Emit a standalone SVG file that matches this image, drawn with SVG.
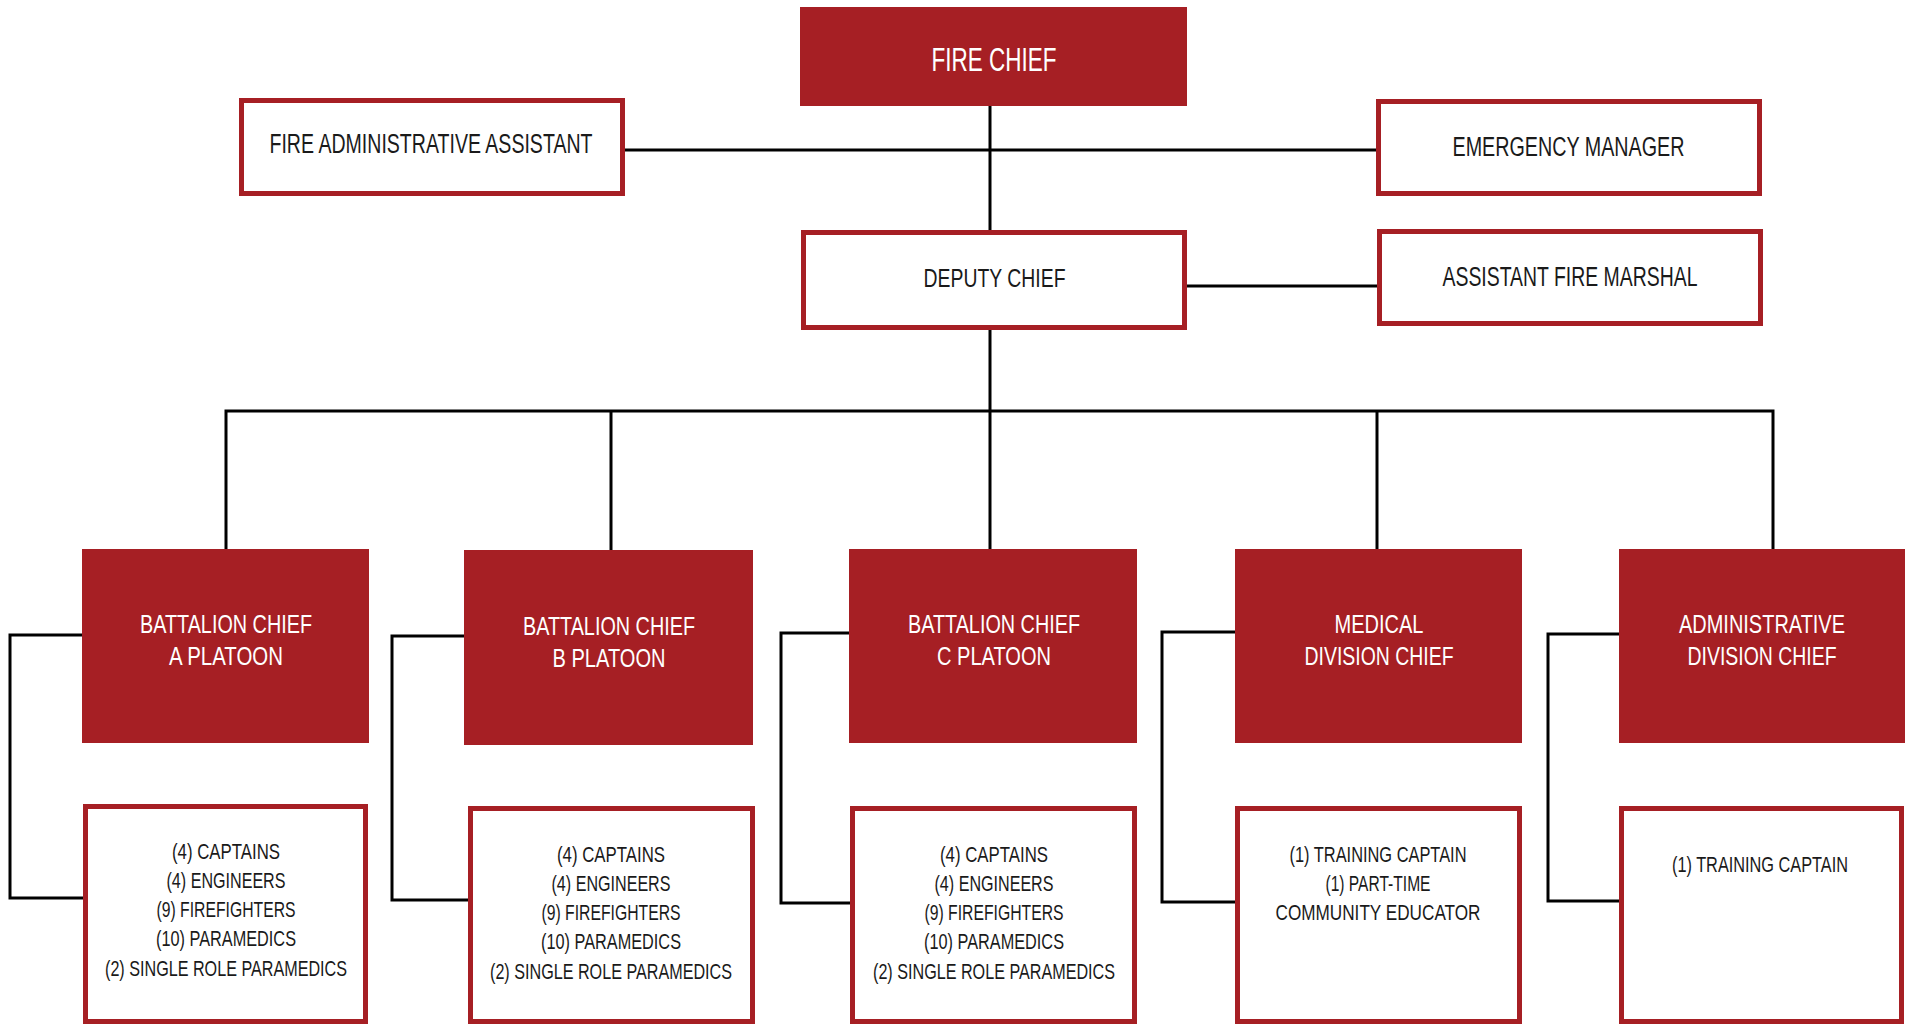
<svg xmlns="http://www.w3.org/2000/svg" width="1905" height="1024" viewBox="0 0 1905 1024">
<style>
.red{fill:#A61F24;}
.box{fill:#FFFFFF;stroke:#A61F24;stroke-width:5;}
.ln{fill:none;stroke:#000000;stroke-width:3;stroke-linejoin:miter;}
text{font-family:"Liberation Sans",Arial,sans-serif;text-anchor:middle;}
.wt{fill:#FFFFFF;font-size:26px;}
.bt{fill:#1A1A1A;font-size:26px;}
.st{fill:#1A1A1A;font-size:22px;}
</style>
<rect x="0" y="0" width="1905" height="1024" fill="#FFFFFF"/>
<g id="connectors">
<line class="ln" x1="990" y1="106" x2="990" y2="231"/>
<line class="ln" x1="625" y1="150" x2="1376" y2="150"/>
<line class="ln" x1="1187" y1="286" x2="1377" y2="286"/>
<line class="ln" x1="990" y1="330" x2="990" y2="549"/>
<path class="ln" d="M226,549 V411 H1773 V549"/>
<line class="ln" x1="611" y1="411" x2="611" y2="550"/>
<line class="ln" x1="1377" y1="411" x2="1377" y2="549"/>
<path class="ln" d="M82,635 H10 V898 H84"/>
<path class="ln" d="M464,636 H392 V900 H469"/>
<path class="ln" d="M849,633 H781 V903 H851"/>
<path class="ln" d="M1235,632 H1162 V902 H1236"/>
<path class="ln" d="M1619,634 H1548 V901 H1620"/>
</g>
<g id="fire-chief">
<rect class="red" x="800" y="7" width="387" height="99"/>
<text class="wt" x="994" y="71" style="font-size:33px" textLength="125" lengthAdjust="spacingAndGlyphs">FIRE CHIEF</text>
</g>
<g id="fire-admin-assistant">
<rect class="box" x="241.5" y="100.5" width="381" height="93"/>
<text class="bt" x="431" y="153" style="font-size:27px" textLength="323" lengthAdjust="spacingAndGlyphs">FIRE ADMINISTRATIVE ASSISTANT</text>
</g>
<g id="emergency-manager">
<rect class="box" x="1378.5" y="101.5" width="381" height="92"/>
<text class="bt" x="1568.5" y="156" style="font-size:27px" textLength="232" lengthAdjust="spacingAndGlyphs">EMERGENCY MANAGER</text>
</g>
<g id="deputy-chief">
<rect class="box" x="803.5" y="232.5" width="381" height="95"/>
<text class="bt" x="994.5" y="287" textLength="142" lengthAdjust="spacingAndGlyphs">DEPUTY CHIEF</text>
</g>
<g id="assistant-fire-marshal">
<rect class="box" x="1379.5" y="231.5" width="381" height="92"/>
<text class="bt" x="1570" y="286" style="font-size:27px" textLength="255" lengthAdjust="spacingAndGlyphs">ASSISTANT FIRE MARSHAL</text>
</g>
<g id="battalion-a">
<rect class="red" x="82" y="549" width="287" height="194"/>
<text class="wt" x="226" y="633" textLength="172" lengthAdjust="spacingAndGlyphs">BATTALION CHIEF</text>
<text class="wt" x="226" y="665" textLength="114" lengthAdjust="spacingAndGlyphs">A PLATOON</text>
</g>
<g id="battalion-b">
<rect class="red" x="464" y="550" width="289" height="195"/>
<text class="wt" x="609" y="635" textLength="172" lengthAdjust="spacingAndGlyphs">BATTALION CHIEF</text>
<text class="wt" x="609" y="667" textLength="113" lengthAdjust="spacingAndGlyphs">B PLATOON</text>
</g>
<g id="battalion-c">
<rect class="red" x="849" y="549" width="288" height="194"/>
<text class="wt" x="994" y="633" textLength="172" lengthAdjust="spacingAndGlyphs">BATTALION CHIEF</text>
<text class="wt" x="994" y="665" textLength="114" lengthAdjust="spacingAndGlyphs">C PLATOON</text>
</g>
<g id="medical-division-chief">
<rect class="red" x="1235" y="549" width="287" height="194"/>
<text class="wt" x="1379" y="633" textLength="89" lengthAdjust="spacingAndGlyphs">MEDICAL</text>
<text class="wt" x="1379" y="665" textLength="149" lengthAdjust="spacingAndGlyphs">DIVISION CHIEF</text>
</g>
<g id="administrative-division-chief">
<rect class="red" x="1619" y="549" width="286" height="194"/>
<text class="wt" x="1762" y="633" textLength="166" lengthAdjust="spacingAndGlyphs">ADMINISTRATIVE</text>
<text class="wt" x="1762" y="665" textLength="149" lengthAdjust="spacingAndGlyphs">DIVISION CHIEF</text>
</g>
<g id="crew-a">
<rect class="box" x="85.5" y="806.5" width="280" height="215"/>
<text class="st" x="226" y="859" textLength="108" lengthAdjust="spacingAndGlyphs">(4) CAPTAINS</text>
<text class="st" x="226" y="888" textLength="119" lengthAdjust="spacingAndGlyphs">(4) ENGINEERS</text>
<text class="st" x="226" y="917" textLength="139" lengthAdjust="spacingAndGlyphs">(9) FIREFIGHTERS</text>
<text class="st" x="226" y="946" textLength="140" lengthAdjust="spacingAndGlyphs">(10) PARAMEDICS</text>
<text class="st" x="226" y="976" textLength="242" lengthAdjust="spacingAndGlyphs">(2) SINGLE ROLE PARAMEDICS</text>
</g>
<g id="crew-b">
<rect class="box" x="470.5" y="808.5" width="282" height="213"/>
<text class="st" x="611" y="862" textLength="108" lengthAdjust="spacingAndGlyphs">(4) CAPTAINS</text>
<text class="st" x="611" y="891" textLength="119" lengthAdjust="spacingAndGlyphs">(4) ENGINEERS</text>
<text class="st" x="611" y="920" textLength="139" lengthAdjust="spacingAndGlyphs">(9) FIREFIGHTERS</text>
<text class="st" x="611" y="949" textLength="140" lengthAdjust="spacingAndGlyphs">(10) PARAMEDICS</text>
<text class="st" x="611" y="979" textLength="242" lengthAdjust="spacingAndGlyphs">(2) SINGLE ROLE PARAMEDICS</text>
</g>
<g id="crew-c">
<rect class="box" x="852.5" y="808.5" width="282" height="213"/>
<text class="st" x="994" y="862" textLength="108" lengthAdjust="spacingAndGlyphs">(4) CAPTAINS</text>
<text class="st" x="994" y="891" textLength="119" lengthAdjust="spacingAndGlyphs">(4) ENGINEERS</text>
<text class="st" x="994" y="920" textLength="139" lengthAdjust="spacingAndGlyphs">(9) FIREFIGHTERS</text>
<text class="st" x="994" y="949" textLength="140" lengthAdjust="spacingAndGlyphs">(10) PARAMEDICS</text>
<text class="st" x="994" y="979" textLength="242" lengthAdjust="spacingAndGlyphs">(2) SINGLE ROLE PARAMEDICS</text>
</g>
<g id="medical-staff">
<rect class="box" x="1237.5" y="808.5" width="282" height="213"/>
<text class="st" x="1378" y="862" textLength="177" lengthAdjust="spacingAndGlyphs">(1) TRAINING CAPTAIN</text>
<text class="st" x="1378" y="891" textLength="105" lengthAdjust="spacingAndGlyphs">(1) PART-TIME</text>
<text class="st" x="1378" y="920" textLength="205" lengthAdjust="spacingAndGlyphs">COMMUNITY EDUCATOR</text>
</g>
<g id="admin-staff">
<rect class="box" x="1621.5" y="808.5" width="280" height="213"/>
<text class="st" x="1760" y="872" textLength="176" lengthAdjust="spacingAndGlyphs">(1) TRAINING CAPTAIN</text>
</g>
</svg>
